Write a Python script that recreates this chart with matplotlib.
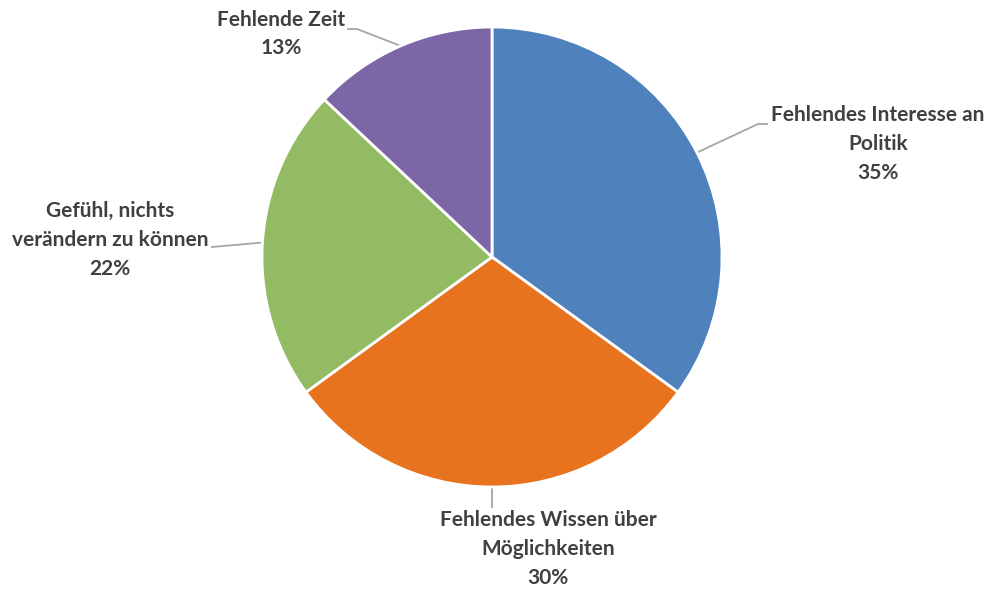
import numpy as np
import matplotlib
matplotlib.use("Agg")
from matplotlib import pyplot as plt

categories = ["Fehlendes Interesse an\nPolitik",
              "Fehlendes Wissen über\nMöglichkeiten",
              "Gefühl, nichts\nverändern zu können",
              "Fehlende Zeit"]
values = [35, 30, 22, 13]
colors = ["#4F81BD", "#E8731F", "#93BB63", "#7D66A5"]

# label block centres and leader elbows, in pixels (y downwards)
label_pos = [(878, 144), (548, 549), (110, 240), (281, 34)]
elbows = [[(758, 124), (767, 124)],
          [(492, 507)],
          [(212, 247)],
          [(357, 29), (348, 29)]]

W, H = 989, 590
cx, cy, r = 492, 257, 230

plt.rcParams['font.family'] = ['Lato', 'DejaVu Sans']
fig = plt.figure(figsize=(W / 100, H / 100), dpi=100)
ax = fig.add_axes([0, 0, 1, 1])

wedges, _ = ax.pie(values, colors=colors, startangle=90, counterclock=False,
                   center=(cx, H - cy), radius=r,
                   wedgeprops=dict(edgecolor="white", linewidth=2))
ax.set_xlim(0, W)
ax.set_ylim(0, H)
ax.set_aspect("auto")
ax.axis("off")

total = sum(values)
start = 0.0
for i, v in enumerate(values):
    mid = start + v / 2
    start += v
    ang = np.deg2rad(90 - mid / total * 360)
    ex, ey = cx + r * np.cos(ang), cy - r * np.sin(ang)
    pts = [(ex, ey)] + elbows[i]
    xs = [p[0] for p in pts]
    ys = [H - p[1] for p in pts]
    ax.plot(xs, ys, color="#A6A6A6", lw=1.3, zorder=0)
    tx, ty = label_pos[i]
    ax.text(tx, H - ty, f"{categories[i]}\n{v}%", ha="center", va="center",
            fontsize=15, fontweight="bold", color="#404040", linespacing=1.55)

fig.savefig("out.png", dpi=100)
